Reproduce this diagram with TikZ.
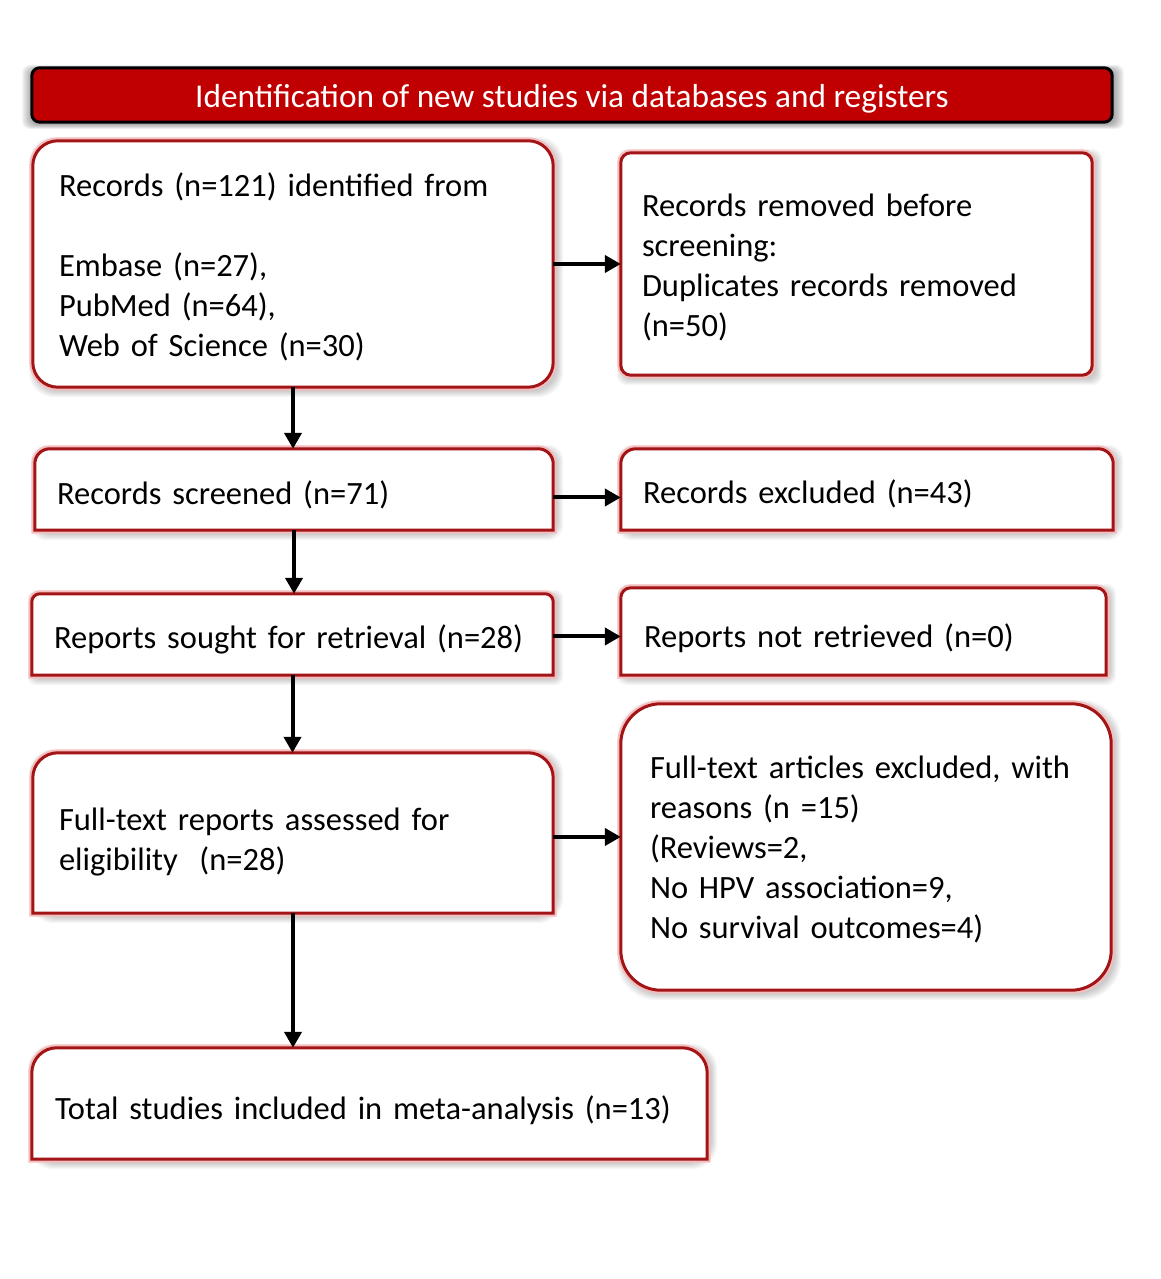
\documentclass[tikz,border=0pt]{standalone}
\usepackage{fontspec}
\setmainfont{Carlito}
\usetikzlibrary{arrows.meta,backgrounds}
\definecolor{hdrred}{RGB}{192,0,0}
\definecolor{edgered}{RGB}{162,20,22}
\definecolor{glowpink}{RGB}{245,190,190}
\tikzset{
  boxtext/.style={draw=none, inner ysep=0pt, align=left, anchor=center,
     font=\fontsize{32.5pt}{40pt}\selectfont},
  push/.style={execute at begin node={\rule{0pt}{#1}}},
  edge/.style={draw=edgered, line width=3pt, fill=white,
     preaction={draw=glowpink, line width=7pt}},
  arr/.style={line width=4pt, -{Triangle[length=16pt,width=17pt]}},
}
\newcommand\softshadow[3]{%
  \foreach \i in {1,...,#3}{%
    \fill[black,opacity=0.03,rounded corners=#2]
      ([shift={({-\i*1pt+3pt},{-\i*1pt-3pt})}]#1.south west) rectangle
      ([shift={({\i*1pt+3pt},{\i*1pt-3pt})}]#1.north east);}}
\newcommand\allround[2]{%
  \softshadow{#1}{#2}{7}%
  \path[edge, rounded corners=#2] (#1.south west) rectangle (#1.north east);}
\newcommand\topround[2]{%
  \softshadow{#1}{#2}{7}%
  \path[edge] (#1.south west) -- ([yshift=-#2]#1.north west)
     arc[start angle=180,end angle=90,radius=#2] -- ([xshift=-#2]#1.north east)
     arc[start angle=90,end angle=0,radius=#2] -- (#1.south east) -- cycle;}
\begin{document}
\begin{tikzpicture}[x=1pt,y=1pt]
\useasboundingbox (0,0) rectangle (1161,1279);

% header
\node[draw=none, minimum width=1080pt, minimum height=54pt, inner sep=0pt, push=31pt,
      text=white, font=\fontsize{33.3pt}{38pt}\selectfont] (hdr) at (572,1184)
      {Identification of new studies via databases and registers};

% boxes
\node[boxtext, push=30.5pt, inner xsep=26pt, text width=468pt, minimum height=246pt] (b1) at (293,1015)
  {Records (n=121) identified from\\[40pt]Embase (n=27),\\PubMed (n=64),\\Web of Science (n=30)};
\node[boxtext, push=30.5pt, inner xsep=21pt, text width=429pt, minimum height=222pt] (b2) at (856.5,1015)
  {Records removed before\\screening:\\Duplicates records removed\\(n=50)};
\node[boxtext, push=34.5pt, inner xsep=22pt, text width=474pt, minimum height=81pt] (b3) at (294,789.5)
  {Records screened (n=71)};
\node[boxtext, push=32.5pt, inner xsep=22pt, text width=448pt, minimum height=81pt] (b4) at (867,789.5)
  {Records excluded (n=43)};
\node[boxtext, push=34.5pt, inner xsep=22pt, text width=477pt, minimum height=81pt] (b5) at (292.5,644.5)
  {Reports sought for retrieval (n=28)};
\node[boxtext, push=36.5pt, inner xsep=23pt, text width=439pt, minimum height=87pt] (b6) at (863.5,647.5)
  {Reports not retrieved (n=0)};
\node[boxtext, push=40.5pt, inner xsep=26pt, text width=468pt, minimum height=160pt] (b7) at (293,446)
  {Full-text reports assessed for\\eligibility~~(n=28)};
\node[boxtext, push=28.5pt, inner xsep=29pt, text width=432pt, minimum height=286pt] (b8) at (866,432)
  {Full-text articles excluded, with\\reasons (n =15)\\(Reviews=2,\\No HPV association=9,\\No survival outcomes=4)};
\node[boxtext, push=36.5pt, inner xsep=23pt, text width=629pt, minimum height=111pt] (b9) at (369.5,175.5)
  {Total studies included in meta-analysis (n=13)};

\begin{pgfonlayer}{background}
  \fill[white] (0,0) rectangle (1161,1279);
  \foreach \i in {1,...,10}{%
    \fill[black,opacity=0.035,rounded corners=8pt]
      ([shift={({-\i*1pt},{-\i*0.5pt-2pt})}]hdr.south west) rectangle
      ([shift={({\i*1pt+2pt},{\i*0.5pt-2pt})}]hdr.north east);}
  \draw[black, line width=3pt, fill=hdrred, rounded corners=8pt]
      (hdr.south west) rectangle (hdr.north east);
  \allround{b1}{25pt}
  \allround{b2}{10pt}
  \topround{b3}{15pt}
  \topround{b4}{15pt}
  \topround{b5}{8pt}
  \topround{b6}{10pt}
  \topround{b7}{25pt}
  \allround{b8}{40pt}
  \topround{b9}{25pt}
\end{pgfonlayer}

% connectors
\draw[arr] (b1.south) -- (b1.south |- b3.north);
\draw[arr] (b3.south) -- (b3.south |- b5.north);
\draw[arr] (b5.south) -- (b5.south |- b7.north);
\draw[arr] (b7.south) -- (b7.south |- b9.north);
\draw[arr] (b1.east) -- (b1.east -| b2.west);
\draw[arr] ([yshift=-8pt]b3.east) -- ([yshift=-8pt]b3.east -| b4.west);
\draw[arr] ([yshift=-2pt]b5.east) -- ([yshift=-2pt]b5.east -| b6.west);
\draw[arr] ([yshift=-4pt]b7.east) -- ([yshift=-4pt]b7.east -| b8.west);
\end{tikzpicture}
\end{document}
